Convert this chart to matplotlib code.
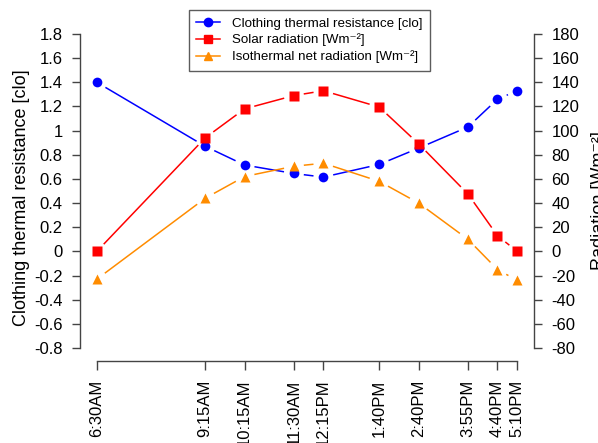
import numpy as np
import matplotlib
matplotlib.use("Agg")
import matplotlib.pyplot as plt
from matplotlib.lines import Line2D

plt.rcParams['font.family'] = ['Liberation Sans', 'DejaVu Sans']

# Observation times (minutes after 6:30AM) and their labels
minutes = [0, 165, 225, 300, 345, 430, 490, 565, 610, 640]
time_labels = ['6:30AM', '9:15AM', '10:15AM', '11:30AM', '12:15PM',
               '1:40PM', '2:40PM', '3:55PM', '4:40PM', '5:10PM']

# Series
clo = [1.40, 0.87, 0.715, 0.645, 0.615, 0.72, 0.855, 1.03, 1.26, 1.33]
solar = [0, 94, 118, 129, 133, 119.5, 89, 47.5, 13, 0]
iso_net = [-23, 44, 62, 70.5, 73, 58, 40, 10, -15, -24]

left_ticks = [-0.8, -0.6, -0.4, -0.2, 0, 0.2, 0.4, 0.6, 0.8, 1, 1.2, 1.4, 1.6, 1.8]
left_tick_labels = ['-0.8', '-0.6', '-0.4', '-0.2', '0', '0.2', '0.4', '0.6',
                    '0.8', '1', '1.2', '1.4', '1.6', '1.8']
right_ticks = [-80, -60, -40, -20, 0, 20, 40, 60, 80, 100, 120, 140, 160, 180]

FS = 12
LFS = 13
W, H = 598, 443
fig = plt.figure(figsize=(W / 100, H / 100), dpi=100)
top_px, bot_px = 21.4, 360.6
ax = fig.add_axes([80 / W, 1 - bot_px / H, (534 - 80) / W, (bot_px - top_px) / H])
ax2 = ax.twinx()

pad_x = 0.04 * (minutes[-1] - minutes[0])
ax.set_xlim(minutes[0] - pad_x, minutes[-1] + pad_x)
pad_l = 0.04 * 2.6
ax.set_ylim(-0.8 - pad_l, 1.8 + pad_l)
pad_r = 0.04 * 260
ax2.set_ylim(-80 - pad_r, 180 + pad_r)

spine_col = '#444444'
for a in (ax, ax2):
    a.spines['top'].set_visible(False)
    for s in a.spines.values():
        s.set_color(spine_col)
        s.set_linewidth(1.0)
ax.spines['right'].set_visible(False)
ax2.spines['left'].set_visible(False)
ax2.spines['bottom'].set_visible(False)
ax.spines['left'].set_bounds(-0.8, 1.8)
ax2.spines['right'].set_bounds(-80, 180)
ax.spines['bottom'].set_bounds(minutes[0], minutes[-1])

ax.set_xticks(minutes)
ax.set_xticklabels(time_labels, rotation=90, va='top', ha='center')
ax.set_yticks(left_ticks)
ax.set_yticklabels(left_tick_labels)
ax2.set_yticks(right_ticks)
ax2.set_yticklabels([str(t) for t in right_ticks])
ax.tick_params(axis='x', length=6.5, width=1.0, color=spine_col, labelsize=FS, pad=7)
ax.tick_params(axis='y', length=5.5, width=1.0, color=spine_col, labelsize=FS, pad=7)
ax2.tick_params(axis='y', length=5.5, width=1.0, color=spine_col, labelsize=FS, pad=7)

fig.text(22 / W, 1 - 198 / H, 'Clothing thermal resistance [clo]', rotation=90,
         fontsize=LFS, ha='center', va='center')
fig.text(600 / W, 1 - 201 / H, 'Radiation [Wm\u207b\u00b2]', rotation=90,
         fontsize=LFS, ha='center', va='center')


def gapped_line(a, x, y, color, gap=10):
    # R "type=b" style: segments stop short of each point
    pts = a.transData.transform(np.column_stack([x, y]))
    inv = a.transData.inverted()
    for p0, p1 in zip(pts[:-1], pts[1:]):
        d = p1 - p0
        L = np.hypot(*d)
        if L <= 2 * gap:
            continue
        u = d / L
        seg = inv.transform(np.array([p0 + u * gap, p1 - u * gap]))
        a.plot(seg[:, 0], seg[:, 1], color=color, lw=1.1, solid_capstyle='butt')


blue, red, orange = '#0000FF', '#FF0000', '#FF8C00'
gapped_line(ax, minutes, clo, blue)
ax.plot(minutes, clo, 'o', color=blue, ms=7, mec='none')
gapped_line(ax2, minutes, solar, red)
ax2.plot(minutes, solar, 's', color=red, ms=6.5, mec='none')
gapped_line(ax2, minutes, iso_net, orange)
ax2.plot(minutes, iso_net, '^', color=orange, ms=7.5, mec='none')

handles = [
    Line2D([], [], color=blue, marker='o', ms=6, lw=1.1),
    Line2D([], [], color=red, marker='s', ms=5.5, lw=1.1),
    Line2D([], [], color=orange, marker='^', ms=6, lw=1.1),
]
labels = ['Clothing thermal resistance [clo]', 'Solar radiation [Wm\u207b\u00b2]',
          'Isothermal net radiation [Wm\u207b\u00b2]']
leg = fig.legend(handles, labels, loc='upper left', bbox_to_anchor=(189 / W, 1 - 10 / H),
                 fontsize=9.6, frameon=True, fancybox=False, borderaxespad=0,
                 handlelength=1.75, handletextpad=0.9, borderpad=0.55, labelspacing=0.3)
leg.get_frame().set_edgecolor('#333333')
leg.get_frame().set_linewidth(1.0)

fig.savefig('out.png', dpi=100)
